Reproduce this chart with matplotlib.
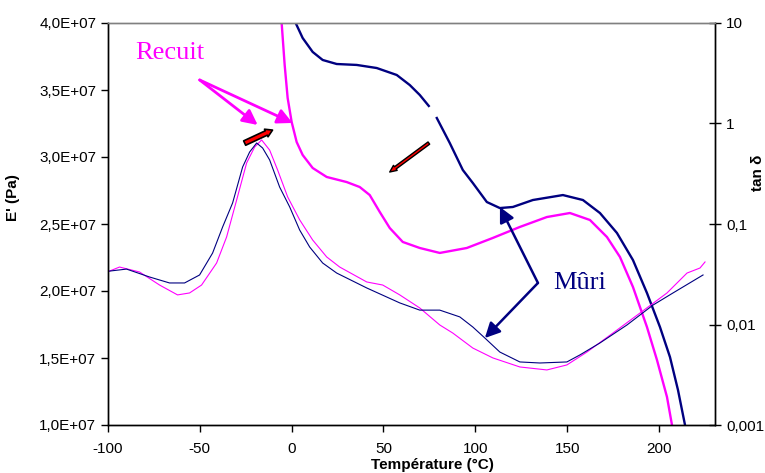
import numpy as np
import matplotlib
matplotlib.use("Agg")
import matplotlib.pyplot as plt
from matplotlib.ticker import FuncFormatter, FixedLocator

plt.rcParams['font.family'] = ['Liberation Sans', 'DejaVu Sans']
plt.rcParams['axes.unicode_minus'] = False

# ---- E' (Pa) thick curves (left axis) ----
t_E_recuit = [-6.0, -5.45, -3.81, -2.18, 0.0, 2.72, 5.99, 11.44, 19.07, 29.97, 37.06, 42.51,
              47.96, 53.41, 60.49, 69.75, 80.65, 95.37, 109.54, 124.25, 138.96, 151.5,
              162.4, 171.66, 178.75, 185.83, 193.46, 198.91, 204.36, 207.08]
E_recuit = [4.2e7, 4.0e7, 3.687e7, 3.44e7, 3.261e7, 3.112e7, 3.015e7, 2.918e7, 2.851e7,
            2.813e7, 2.776e7, 2.716e7, 2.59e7, 2.47e7, 2.366e7, 2.321e7, 2.284e7, 2.321e7,
            2.396e7, 2.478e7, 2.552e7, 2.582e7, 2.53e7, 2.403e7, 2.254e7, 2.03e7, 1.731e7,
            1.485e7, 1.209e7, 1.0e7]

t_E_muri = [0.8, 2.18, 5.99, 11.44, 16.89, 24.52, 35.42, 46.32, 57.22, 64.31, 69.75, 74.66,
            np.nan, 79.02, 86.1, 93.19, 98.64, 106.27, 113.35, 120.44, 131.34, 147.68,
            158.58, 167.85, 177.11, 185.83, 193.46, 200.54, 205.99, 210.35, 214.17]
E_muri = [4.15e7, 4.0e7, 3.888e7, 3.784e7, 3.724e7, 3.694e7, 3.687e7, 3.664e7, 3.612e7,
          3.537e7, 3.463e7, 3.381e7, np.nan, 3.291e7, 3.104e7, 2.903e7, 2.806e7, 2.664e7,
          2.619e7, 2.627e7, 2.679e7, 2.716e7, 2.679e7, 2.582e7, 2.433e7, 2.231e7,
          1.985e7, 1.731e7, 1.507e7, 1.261e7, 1.0e7]

# ---- tan delta thin curves (right axis, log) ----
t_tan_muri = [-99.18, -89.92, -77.38, -66.49, -58.31, -50.14, -43.05, -37.6, -32.15, -26.7,
              -22.89, -19.07, -15.8, -11.99, -6.54, -1.09, 4.36, 9.81, 16.89, 24.52, 40.87,
              58.86, 69.75, 80.65, 91.55, 98.64, 105.18, 113.35, 124.25, 135.15, 149.86,
              156.95, 167.85, 182.56, 196.73, 207.63, 223.98]
tan_muri = [0.034, 0.0356, 0.0297, 0.0259, 0.0259, 0.0311, 0.0514, 0.0933, 0.162, 0.369,
            0.52, 0.64, 0.57, 0.434, 0.233, 0.148, 0.0871, 0.059, 0.0409, 0.0325, 0.0231,
            0.0164, 0.0139, 0.0139, 0.0119, 0.00944, 0.00734, 0.00532, 0.00424, 0.00414,
            0.00424, 0.00498, 0.00655, 0.00989, 0.0156, 0.0206, 0.0311]

t_tan_recuit = [-99.18, -93.73, -82.83, -71.93, -62.13, -55.59, -49.05, -40.87, -35.42,
                -29.97, -24.52, -20.16, -16.35, -11.99, -7.63, -2.18, 4.36, 11.44, 19.07,
                26.16, 40.87, 49.59, 58.86, 69.75, 80.65, 87.74, 98.64, 109.54, 124.25,
                138.96, 149.86, 160.76, 174.93, 189.65, 204.36, 215.26, 222.34, 225.07]
tan_recuit = [0.034, 0.0373, 0.0333, 0.0247, 0.0197, 0.0206, 0.0247, 0.0409, 0.0743, 0.173,
              0.405, 0.583, 0.686, 0.544, 0.344, 0.186, 0.11, 0.0693, 0.047, 0.0373,
              0.0265, 0.0247, 0.0197, 0.0146, 0.00989, 0.00822, 0.00583, 0.00465, 0.00378,
              0.00353, 0.00396, 0.00532, 0.00822, 0.013, 0.0206, 0.0325, 0.0365, 0.0419]

x_ticks = [-100, -50, 0, 50, 100, 150, 200]
y_ticks = [1.0e7, 1.5e7, 2.0e7, 2.5e7, 3.0e7, 3.5e7, 4.0e7]
tan_ticks = [0.001, 0.01, 0.1, 1, 10]
tan_labels = ["0,001", "0,01", "0,1", "1", "10"]

MAG = '#FF00FF'
NAVY = '#000080'

fig = plt.figure(figsize=(7.65, 4.73), dpi=100)
ax = fig.add_axes([108/765, 48/473, 607/765, 402/473])
ax2 = ax.twinx()

ax.plot(t_E_recuit, E_recuit, color=MAG, lw=1.7, solid_joinstyle='round')
ax.plot(t_E_muri, E_muri, color=NAVY, lw=1.7, solid_joinstyle='round')
ax2.plot(t_tan_recuit, tan_recuit, color=MAG, lw=0.8)
ax2.plot(t_tan_muri, tan_muri, color=NAVY, lw=0.8)

ax.set_xlim(-100, 230.5)
ax.set_ylim(1.0e7, 4.0e7)
ax2.set_yscale('log')
ax2.set_ylim(0.001, 10)

ax.set_xticks(x_ticks)
ax.set_yticks(y_ticks)
ax.yaxis.set_major_formatter(FuncFormatter(lambda v, p: f"{v:.1E}".replace('.', ',')))
ax2.yaxis.set_major_locator(FixedLocator(tan_ticks))
ax2.yaxis.set_minor_locator(FixedLocator([]))
ax2.set_yticklabels(tan_labels)

ax.tick_params(axis='both', direction='out', length=5, width=1, labelsize=11, colors='black')
ax.tick_params(axis='x', pad=7)
ax2.tick_params(axis='y', direction='inout', length=9, width=1, labelsize=11)

for a in (ax, ax2):
    a.spines['top'].set_color('#808080')
    for s in ('left', 'right', 'bottom'):
        a.spines[s].set_color('black')
    for s in a.spines.values():
        s.set_linewidth(1.0)

ax.set_ylabel("E' (Pa)", fontsize=11, fontweight='bold')
ax.yaxis.set_label_coords(-0.145, 0.567)
ax2.set_ylabel("tan δ", fontsize=11, fontweight='bold', rotation=90)
ax2.yaxis.set_label_coords(1.059, 0.627)
ax.set_xlabel("Température (°C)", fontsize=11, fontweight='bold', va='top')
ax.xaxis.set_label_coords(0.534, -0.083)

# annotations
ax.text(-66.5, 3.776e7, "Recuit", color=MAG, fontsize=19, family='Liberation Serif',
        ha='center', va='center')
for tip in [(-18.5, 3.239e7), (0.5, 3.254e7)]:
    ax.annotate("", xy=tip, xytext=(-50.1, 3.575e7),
                arrowprops=dict(arrowstyle='-|>,head_length=0.9,head_width=0.45',
                                color=MAG, lw=2, shrinkA=0, shrinkB=0))

ax.text(157.0, 2.06e7, "Mûri", color=NAVY, fontsize=19, family='Liberation Serif',
        ha='center', va='center')
for tip in [(113.4, 2.627e7), (105.2, 1.649e7)]:
    ax.annotate("", xy=tip, xytext=(134.1, 2.06e7),
                arrowprops=dict(arrowstyle='-|>,head_length=0.9,head_width=0.45',
                                color=NAVY, lw=1.8, shrinkA=0, shrinkB=0))

ax.annotate("", xy=(-10.4, 3.201e7), xytext=(-25.6, 3.104e7),
            arrowprops=dict(arrowstyle='simple,head_length=0.5,head_width=0.6,tail_width=0.35',
                            fc='#FF0000', ec='black', lw=1.2, shrinkA=0, shrinkB=0),
            zorder=5)
ax.annotate("", xy=(53.4, 2.888e7), xytext=(74.7, 3.104e7),
            arrowprops=dict(arrowstyle='simple,head_length=0.5,head_width=0.45,tail_width=0.2',
                            fc='#FF0000', ec='black', lw=1.0, shrinkA=0, shrinkB=0),
            zorder=5)

fig.savefig("out.png", dpi=100)
